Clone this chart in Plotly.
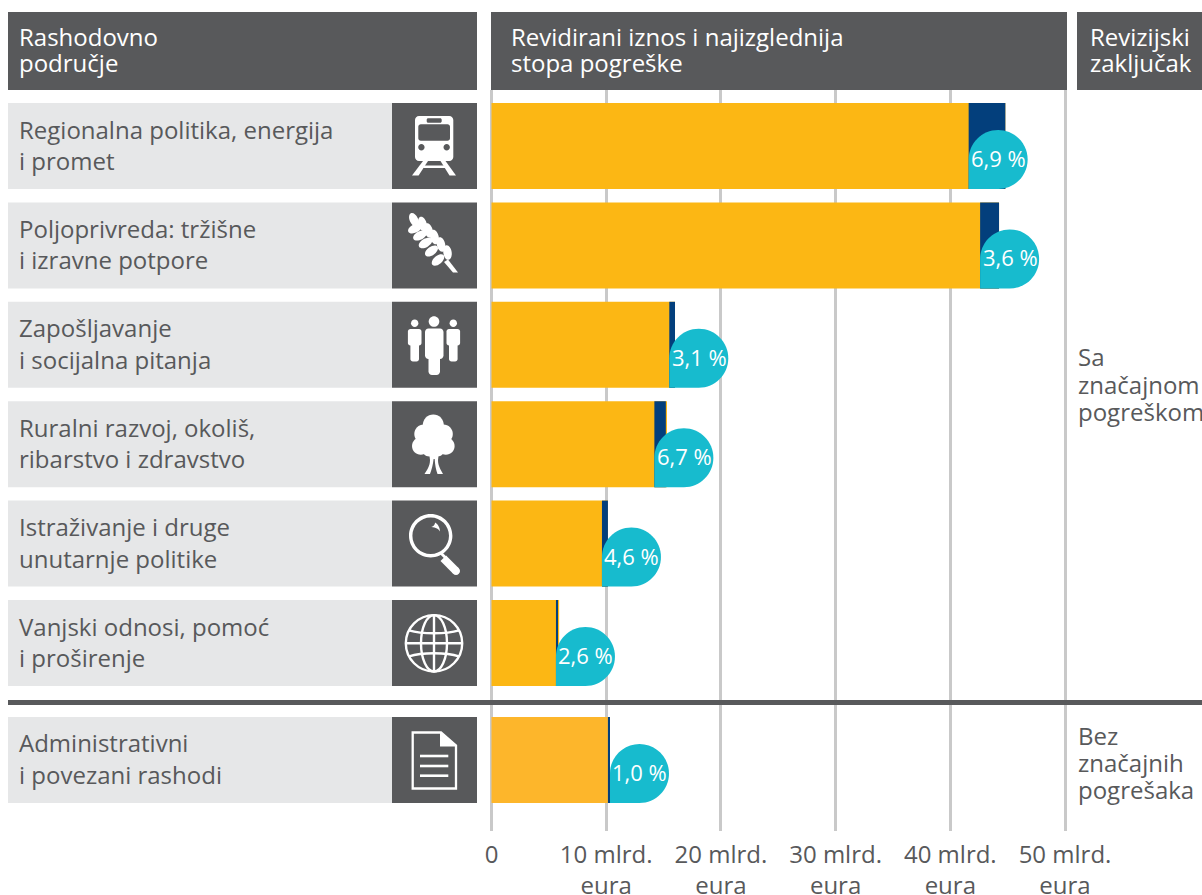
import math
import plotly.graph_objects as go

# ---- data (mlrd. eura) ----
areas = [
    ["Regionalna politika, energija", "i promet"],
    ["Poljoprivreda: tržišne", "i izravne potpore"],
    ["Zapošljavanje", "i socijalna pitanja"],
    ["Ruralni razvoj, okoliš,", "ribarstvo i zdravstvo"],
    ["Istraživanje i druge", "unutarnje politike"],
    ["Vanjski odnosi, pomoć", "i proširenje"],
    ["Administrativni", "i povezani rashodi"],
]
row_pos = [0, 1, 2, 3, 4, 5, 6.177]
audited = [44.8, 44.25, 16.0, 15.3, 10.15, 5.9, 10.15]
error_start = [41.6, 42.6, 15.5, 14.2, 9.63, 5.62, 10.15]
error_end = [44.8, 44.25, 16.0, 15.2, 10.15, 5.8, 10.33]
rates = ["6,9 %", "3,6 %", "3,1 %", "6,7 %", "4,6 %", "2,6 %", "1,0 %"]
tick_vals = [0, 10, 20, 30, 40, 50]
tick_text = ["0", "10 mlrd.<br>eura", "20 mlrd.<br>eura", "30 mlrd.<br>eura", "40 mlrd.<br>eura", "50 mlrd.<br>eura"]
headers = [(19, ["Rashodovno", "područje"]), (511, ["Revidirani iznos i najizglednija", "stopa pogreške"]), (1090, ["Revizijski", "zaključak"])]
conclusions = [(357, ["Sa", "značajnom", "pogreškom"]), (735, ["Bez", "značajnih", "pogrešaka"])]

# ---- page geometry ----
W, H = 1202, 895
TOP, BOT = 90, 831
X0, X50 = 491.5, 1065.0
UNIT_X = (X50 - X0) / 50
ROW0, UNIT_Y = 146.0, 99.4
BAR_H = 86
DROP = 59
FONT = "Open Sans"
GREY = "#58595B"
LIGHT = "#E6E7E8"
YEL = "#FCB714"
YEL2 = "#FDB62B"
BLUE = "#033F7C"
TEAL = "#17BBCE"
GRID = "#C9C9C9"
FS = 24


def px(x):
    return x / W


def py(y):
    return (BOT - y) / (BOT - TOP)


def pt(x, y):
    return f"{px(x):.6f},{py(y):.6f}"


def rect(x0, y0, x1, y1, color, layer="above"):
    return dict(type="rect", xref="paper", yref="paper", x0=px(x0), x1=px(x1), y0=py(y0), y1=py(y1),
                fillcolor=color, line_width=0, layer=layer)


def poly(points):
    return "M" + " L".join(pt(*p) for p in points) + " Z"


def ell(cx, cy, rx, ry=None, rot=0):
    ry = rx if ry is None else ry
    k = 0.5523
    c, s = math.cos(math.radians(rot)), math.sin(math.radians(rot))

    def t(a, b):
        return pt(cx + a * c - b * s, cy + a * s + b * c)
    return (f"M{t(rx, 0)} C{t(rx, k*ry)} {t(k*rx, ry)} {t(0, ry)} C{t(-k*rx, ry)} {t(-rx, k*ry)} {t(-rx, 0)} "
            f"C{t(-rx, -k*ry)} {t(-k*rx, -ry)} {t(0, -ry)} C{t(k*rx, -ry)} {t(rx, -k*ry)} {t(rx, 0)} Z")


def rrect(x0, y0, x1, y1, r):
    k = r * 0.45
    return (f"M{pt(x0+r, y0)} L{pt(x1-r, y0)} C{pt(x1-k, y0)} {pt(x1, y0+k)} {pt(x1, y0+r)} L{pt(x1, y1-r)} "
            f"C{pt(x1, y1-k)} {pt(x1-k, y1)} {pt(x1-r, y1)} L{pt(x0+r, y1)} C{pt(x0+k, y1)} {pt(x0, y1-k)} {pt(x0, y1-r)} "
            f"L{pt(x0, y0+r)} C{pt(x0, y0+k)} {pt(x0+k, y0)} {pt(x0+r, y0)} Z")


def fill(path):
    return dict(type="path", xref="paper", yref="paper", path=path, fillcolor="white", line_width=0, layer="above")


def stroke(path, w=2.4):
    return dict(type="path", xref="paper", yref="paper", path=path, fillcolor="rgba(0,0,0,0)",
                line=dict(color="white", width=w), layer="above")


def label(x, y, text, color):
    return dict(xref="paper", yref="paper", x=px(x), y=py(y), text=text, showarrow=False, borderpad=0, borderwidth=0,
                xanchor="left", yanchor="middle", font=dict(family=FONT, size=FS, color=color))


shapes = []
annotations = []

# header blocks
for x0, x1 in [(8, 477), (491, 1067), (1077, 1202)]:
    shapes.append(rect(x0, 12, x1, 90, GREY))

for hx, lines in headers:
    for i, line in enumerate(lines):
        annotations.append(label(hx, 36.5 + 26.5 * i, line, "white"))

# left column
for lines, r in zip(areas, row_pos):
    yc = ROW0 + UNIT_Y * r
    shapes.append(rect(8, yc - BAR_H / 2, 392, yc + BAR_H / 2, LIGHT))
    shapes.append(rect(392, yc - BAR_H / 2, 477, yc + BAR_H / 2, GREY))
    for i, line in enumerate(lines):
        annotations.append(label(19, yc - 17 + 31.5 * i, line, GREY))

# conclusions
for y0, lines in conclusions:
    for i, line in enumerate(lines):
        annotations.append(label(1078, y0 + 27 * i, line, GREY))

# separator
shapes.append(rect(8, 700, 1202, 705, GREY))

# ---- icons ----
# train
shapes.append(fill(rrect(415, 116, 453.3, 161, 4)
                   + " " + rrect(418.3, 124.3, 450, 140.7, 2.5)
                   + " " + rrect(426.7, 118.3, 441.7, 122.7, 1.5)
                   + " " + ell(421.4, 147.3, 3.2) + " " + ell(446.7, 147.3, 3.2)))
shapes.append(fill(poly([(423, 161), (428, 161), (418.6, 175.5), (412, 175.5)])))
shapes.append(fill(poly([(445.5, 161), (440.5, 161), (449.5, 175.5), (456, 175.5)])))
shapes.append(fill(poly([(424, 165.5), (445, 165.5), (446, 168), (423, 168)])))

# wheat
wheat_x, wheat_y = 392, 203
wheat_pts = [(22, 17, -25), (30.5, 21, -15), (36.5, 27.5, -15), (42.5, 34, -13), (49, 41.5, -12), (55.5, 49.5, -8),
             (23, 25.5, 65), (28, 32.5, 62), (33.5, 40, 60), (39.5, 48, 55), (46, 57, 50)]
for cx, cy, rot in wheat_pts:
    shapes.append(fill(ell(wheat_x + cx, wheat_y + cy, 4.2, 7.4, rot)))
shapes.append(fill(poly([(wheat_x + 52, wheat_y + 59), (wheat_x + 56, wheat_y + 56.5), (wheat_x + 66, wheat_y + 69.5), (wheat_x + 61, wheat_y + 69.5)])))

# people
shapes.append(fill(ell(434, 321.5, 5.3)))
shapes.append(fill(rrect(425, 328.5, 443.5, 359, 3.5)))
shapes.append(fill(rrect(428.5, 345, 440, 375, 3.5)))
for cx in (414.7, 453.3):
    shapes.append(fill(ell(cx, 323.3, 3.7)))
    shapes.append(fill(rrect(cx - 6.8, 329, cx + 6.8, 345.5, 2.5)))
    shapes.append(fill(rrect(cx - 4.3, 340, cx + 4.3, 361.5, 2.5)))

# tree
for cx, cy, r in [(433.3, 425, 10.5), (423.8, 434, 9.5), (443.3, 434, 9.5), (420.8, 446, 8.8), (445.8, 446, 8.8), (433.3, 440, 13), (429.3, 449, 7.5), (437.3, 449, 7.5)]:
    shapes.append(fill(ell(cx, cy, r)))
shapes.append(fill(f"M{pt(429,452)} L{pt(439,452)} L{pt(438,460)} C{pt(438,466)} {pt(441,470)} {pt(443,474)} L{pt(437.5,474)} "
                   f"C{pt(436,470)} {pt(435,465)} {pt(434.7,459)} L{pt(433.6,459)} C{pt(433,465)} {pt(431.5,470)} {pt(430,474)} "
                   f"L{pt(424.5,474)} C{pt(427,470)} {pt(430,466)} {pt(430,460)} Z"))

# magnifier
shapes.append(fill(ell(430.7, 535.8, 21.7) + " " + ell(430.7, 535.8, 18.3)))
shapes.append(fill(poly([(441.9, 552), (447, 557.2), (445, 559.2), (439.9, 554)])))
shapes.append(fill(poly([(446.1, 555.5), (458.8, 568.2), (453.2, 573.8), (440.5, 561.1)])))
shapes.append(fill(ell(456, 571, 4)))
shapes.append(fill(f"M{pt(430,527)} C{pt(433,527)} {pt(435,525)} {pt(435,522.5)} C{pt(438,524)} {pt(440,528)} {pt(440,531.5)} "
                   f"C{pt(438,528)} {pt(434,527)} {pt(430,527)} Z"))

# globe
gx, gy, gr = 434, 643.3, 28.2
shapes.append(stroke(ell(gx, gy, gr)))
shapes.append(stroke(ell(gx, gy, 13, gr)))
shapes.append(stroke(f"M{pt(gx, gy-gr)} L{pt(gx, gy+gr)}"))
shapes.append(stroke(f"M{pt(gx-gr, gy)} L{pt(gx+gr, gy)}"))
shapes.append(stroke(f"M{pt(gx-25, gy-13)} C{pt(gx-12, gy-9)} {pt(gx+12, gy-9)} {pt(gx+25, gy-13)}"))
shapes.append(stroke(f"M{pt(gx-25, gy+13)} C{pt(gx-12, gy+9)} {pt(gx+12, gy+9)} {pt(gx+25, gy+13)}"))

# document
shapes.append(stroke(poly([(412.7, 732.5), (441, 732.5), (456, 745.5), (456, 788.5), (412.7, 788.5)]), 2.3))
shapes.append(fill(poly([(440, 732), (456.5, 746.5), (440, 746.5)])))
for y in (756, 766, 775.7):
    shapes.append(fill(poly([(420, y - 1.3), (448.3, y - 1.3), (448.3, y + 1.3), (420, y + 1.3)])))

# ---- drops and rates, anchored to the data ----
drop_base = error_start[:6] + [error_end[6]]
k = 0.5523 * DROP / 2
R = DROP / 2
drop_path = (f"M0,0 L0,{R} C0,{R+k} {R-k},{DROP} {R},{DROP} C{R+k},{DROP} {DROP},{R+k} {DROP},{R} "
             f"C{DROP},{R-k} {R+k},0 {R},0 Z")
half_bar = BAR_H / UNIT_Y / 2
for xv, r, rate in zip(drop_base, row_pos, rates):
    shapes.append(dict(type="path", xref="x", yref="y", xsizemode="pixel", ysizemode="pixel",
                       xanchor=xv, yanchor=r + half_bar, path=drop_path, fillcolor=TEAL, line_width=0, layer="above"))
    annotations.append(dict(xref="x", yref="y", x=xv, y=r + half_bar, text=rate, showarrow=False, xanchor="center",
                            yanchor="middle", xshift=R + 0.5, yshift=R + 1.5, borderpad=0,
                            font=dict(family=FONT, size=22, color="white")))

fig = go.Figure()
fig.add_trace(go.Bar(y=row_pos, x=audited, orientation="h", width=BAR_H / UNIT_Y, showlegend=False,
                     marker=dict(color=[YEL] * 6 + [YEL2], line_width=0)))
fig.add_trace(go.Bar(y=row_pos, x=[e - s for s, e in zip(error_start, error_end)], base=error_start, orientation="h",
                     width=BAR_H / UNIT_Y, showlegend=False, marker=dict(color=BLUE, line_width=0)))

fig.update_layout(
    width=W, height=H, autosize=False, barmode="overlay", paper_bgcolor="white", plot_bgcolor="white",
    margin=dict(l=0, r=0, t=TOP, b=H - BOT, pad=0, autoexpand=False), shapes=shapes, annotations=annotations,
    xaxis=dict(range=[(0 - X0) / UNIT_X, (W - X0) / UNIT_X], tickmode="array", tickvals=tick_vals, ticktext=tick_text,
               showgrid=True, gridcolor=GRID, gridwidth=2.5, zeroline=False, showline=False, ticks="outside", ticklen=2,
               tickcolor="rgba(0,0,0,0)", tickfont=dict(family=FONT, size=FS, color=GREY), tickangle=0, fixedrange=True,
               automargin=False),
    yaxis=dict(range=[(BOT - ROW0) / UNIT_Y, (TOP - ROW0) / UNIT_Y], showgrid=False, zeroline=False, showline=False,
               showticklabels=False, ticks="", fixedrange=True, automargin=False),
    font=dict(family=FONT, color=GREY),
)

fig.write_html("out.html", config=dict(displayModeBar=False),
               post_script="document.body.style.margin='0';document.body.style.overflow='hidden';window.dispatchEvent(new Event('resize'));")
